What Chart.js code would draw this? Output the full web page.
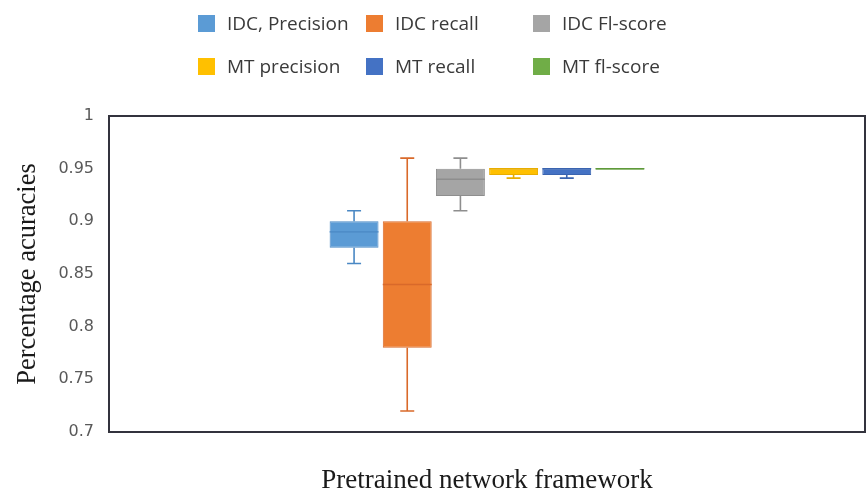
<!DOCTYPE html>
<html>
<head>
<meta charset="utf-8">
<script src="https://cdn.jsdelivr.net/npm/chart.js@4/dist/chart.umd.min.js"></script>
<style>
  html, body { margin: 0; padding: 0; background: #ffffff; }
  #wrap { position: relative; width: 868px; height: 494px; }
  #chart { position: absolute; left: 0; top: 0; }
  .lg-item { position: absolute; display: flex; align-items: center; height: 18px;
             font-family: "Open Sans", sans-serif; font-size: 19px; color: #3a3a3a; white-space: nowrap; }
  .lg-box { width: 17px; height: 17px; margin-right: 12px; flex: none; }
</style>
</head>
<body>
<div id="wrap">
  <canvas id="chart" width="868" height="494"></canvas>
</div>
<script>
// One group on the x axis, six box-and-whisker series inside it
const categories = [''];
const seriesNames = ['IDC, Precision', 'IDC recall', 'IDC Fl-score', 'MT precision', 'MT recall', 'MT fl-score'];
const minVals    = [0.86,  0.72, 0.91,  0.941, 0.941, 0.949];
const q1Vals     = [0.875, 0.78, 0.924, 0.944, 0.944, 0.949];
const medianVals = [0.89,  0.84, 0.94,  0.95,  0.95,  0.95];
const q3Vals     = [0.90,  0.90, 0.95,  0.95,  0.95,  0.95];
const maxVals    = [0.91,  0.96, 0.96,  0.95,  0.95,  0.95];
const yTicks     = [0.7, 0.75, 0.8, 0.85, 0.9, 0.95, 1];

const fillColors   = ['#5b9bd5', '#ed7d31', '#a5a5a5', '#ffc000', '#4472c4', '#70ad47'];
const strokeColors = ['#4a88c4', '#d9692a', '#8e8e8e', '#e8ad00', '#3a64b0', '#5f9a3a'];

const datasets = seriesNames.map((name, i) => ({
  label: name,
  data: [[q1Vals[i], q3Vals[i]]],
  backgroundColor: fillColors[i],
  borderColor: strokeColors[i],
  borderWidth: 1,
  borderSkipped: false,
  categoryPercentage: 0.422,
  barPercentage: 0.92
}));

// Whiskers, caps and median lines drawn over the floating boxes
const whiskerPlugin = {
  id: 'whiskers',
  afterDatasetsDraw(chart) {
    const ctx = chart.ctx;
    const y = chart.scales.y;
    chart.data.datasets.forEach((ds, i) => {
      const bar = chart.getDatasetMeta(i).data[0];
      if (!bar) return;
      const x = bar.x;
      const half = bar.width / 2;
      const capHalf = 7;
      const yMin = y.getPixelForValue(minVals[i]);
      const yMax = y.getPixelForValue(maxVals[i]);
      const yQ1 = y.getPixelForValue(q1Vals[i]);
      const yQ3 = y.getPixelForValue(q3Vals[i]);
      const yMed = y.getPixelForValue(medianVals[i]);
      ctx.save();
      ctx.strokeStyle = strokeColors[i];
      ctx.lineWidth = 1.6;
      ctx.beginPath();
      if (yMax < yQ3 - 0.5) {
        ctx.moveTo(x, yQ3); ctx.lineTo(x, yMax);
        ctx.moveTo(x - capHalf, yMax); ctx.lineTo(x + capHalf, yMax);
      }
      if (yMin > yQ1 + 0.5) {
        ctx.moveTo(x, yQ1); ctx.lineTo(x, yMin);
        ctx.moveTo(x - capHalf, yMin); ctx.lineTo(x + capHalf, yMin);
      }
      ctx.stroke();
      ctx.lineWidth = 1.4;
      ctx.beginPath();
      ctx.moveTo(x - half, yMed); ctx.lineTo(x + half, yMed);
      ctx.stroke();
      ctx.restore();
    });
  }
};

// Dark frame around the plot area
const framePlugin = {
  id: 'frame',
  afterDraw(chart) {
    const a = chart.chartArea;
    const ctx = chart.ctx;
    ctx.save();
    ctx.strokeStyle = '#33333d';
    ctx.lineWidth = 2;
    ctx.strokeRect(a.left, a.top, a.right - a.left, a.bottom - a.top);
    ctx.restore();
  }
};

const chart = new Chart(document.getElementById('chart'), {
  type: 'bar',
  data: { labels: categories, datasets },
  options: {
    responsive: false,
    animation: false,
    layout: { padding: { top: 116, right: 3, left: 0, bottom: 0 } },
    plugins: { legend: { display: false }, tooltip: { enabled: false } },
    scales: {
      x: {
        grid: { display: false, drawTicks: false },
        border: { display: false },
        ticks: { display: false },
        title: {
          display: true,
          text: 'Pretrained network framework',
          font: { family: '"Liberation Serif", serif', size: 27 },
          color: '#1a1a1a',
          padding: { top: 0, bottom: -3 }
        },
        afterFit(scale) { scale.height = 62; }
      },
      y: {
        min: 0.7,
        max: 1,
        grid: { display: false, drawTicks: false },
        border: { display: false },
        afterBuildTicks(scale) { scale.ticks = yTicks.map(v => ({ value: v })); },
        ticks: {
          padding: 15,
          color: '#595959',
          font: { family: '"DejaVu Sans", sans-serif', size: 16 },
          callback: (v) => String(v)
        },
        title: {
          display: true,
          text: 'Percentage acuracies',
          font: { family: '"Liberation Serif", serif', size: 26.5 },
          color: '#1a1a1a',
          padding: { top: 12, bottom: 0 }
        },
        afterFit(scale) { scale.width = 109; }
      }
    }
  },
  plugins: [whiskerPlugin, framePlugin]
});

// Legend laid out as a 3 x 2 grid above the plot
const legendCols = [198, 366, 533];
const legendRows = [14, 57];
const wrap = document.getElementById('wrap');
chart.data.datasets.forEach((ds, i) => {
  const item = document.createElement('div');
  item.className = 'lg-item';
  item.style.left = legendCols[i % 3] + 'px';
  item.style.top = legendRows[Math.floor(i / 3)] + 'px';
  const box = document.createElement('span');
  box.className = 'lg-box';
  box.style.background = ds.backgroundColor;
  const txt = document.createElement('span');
  txt.textContent = ds.label;
  item.appendChild(box);
  item.appendChild(txt);
  wrap.appendChild(item);
});
</script>
</body>
</html>
